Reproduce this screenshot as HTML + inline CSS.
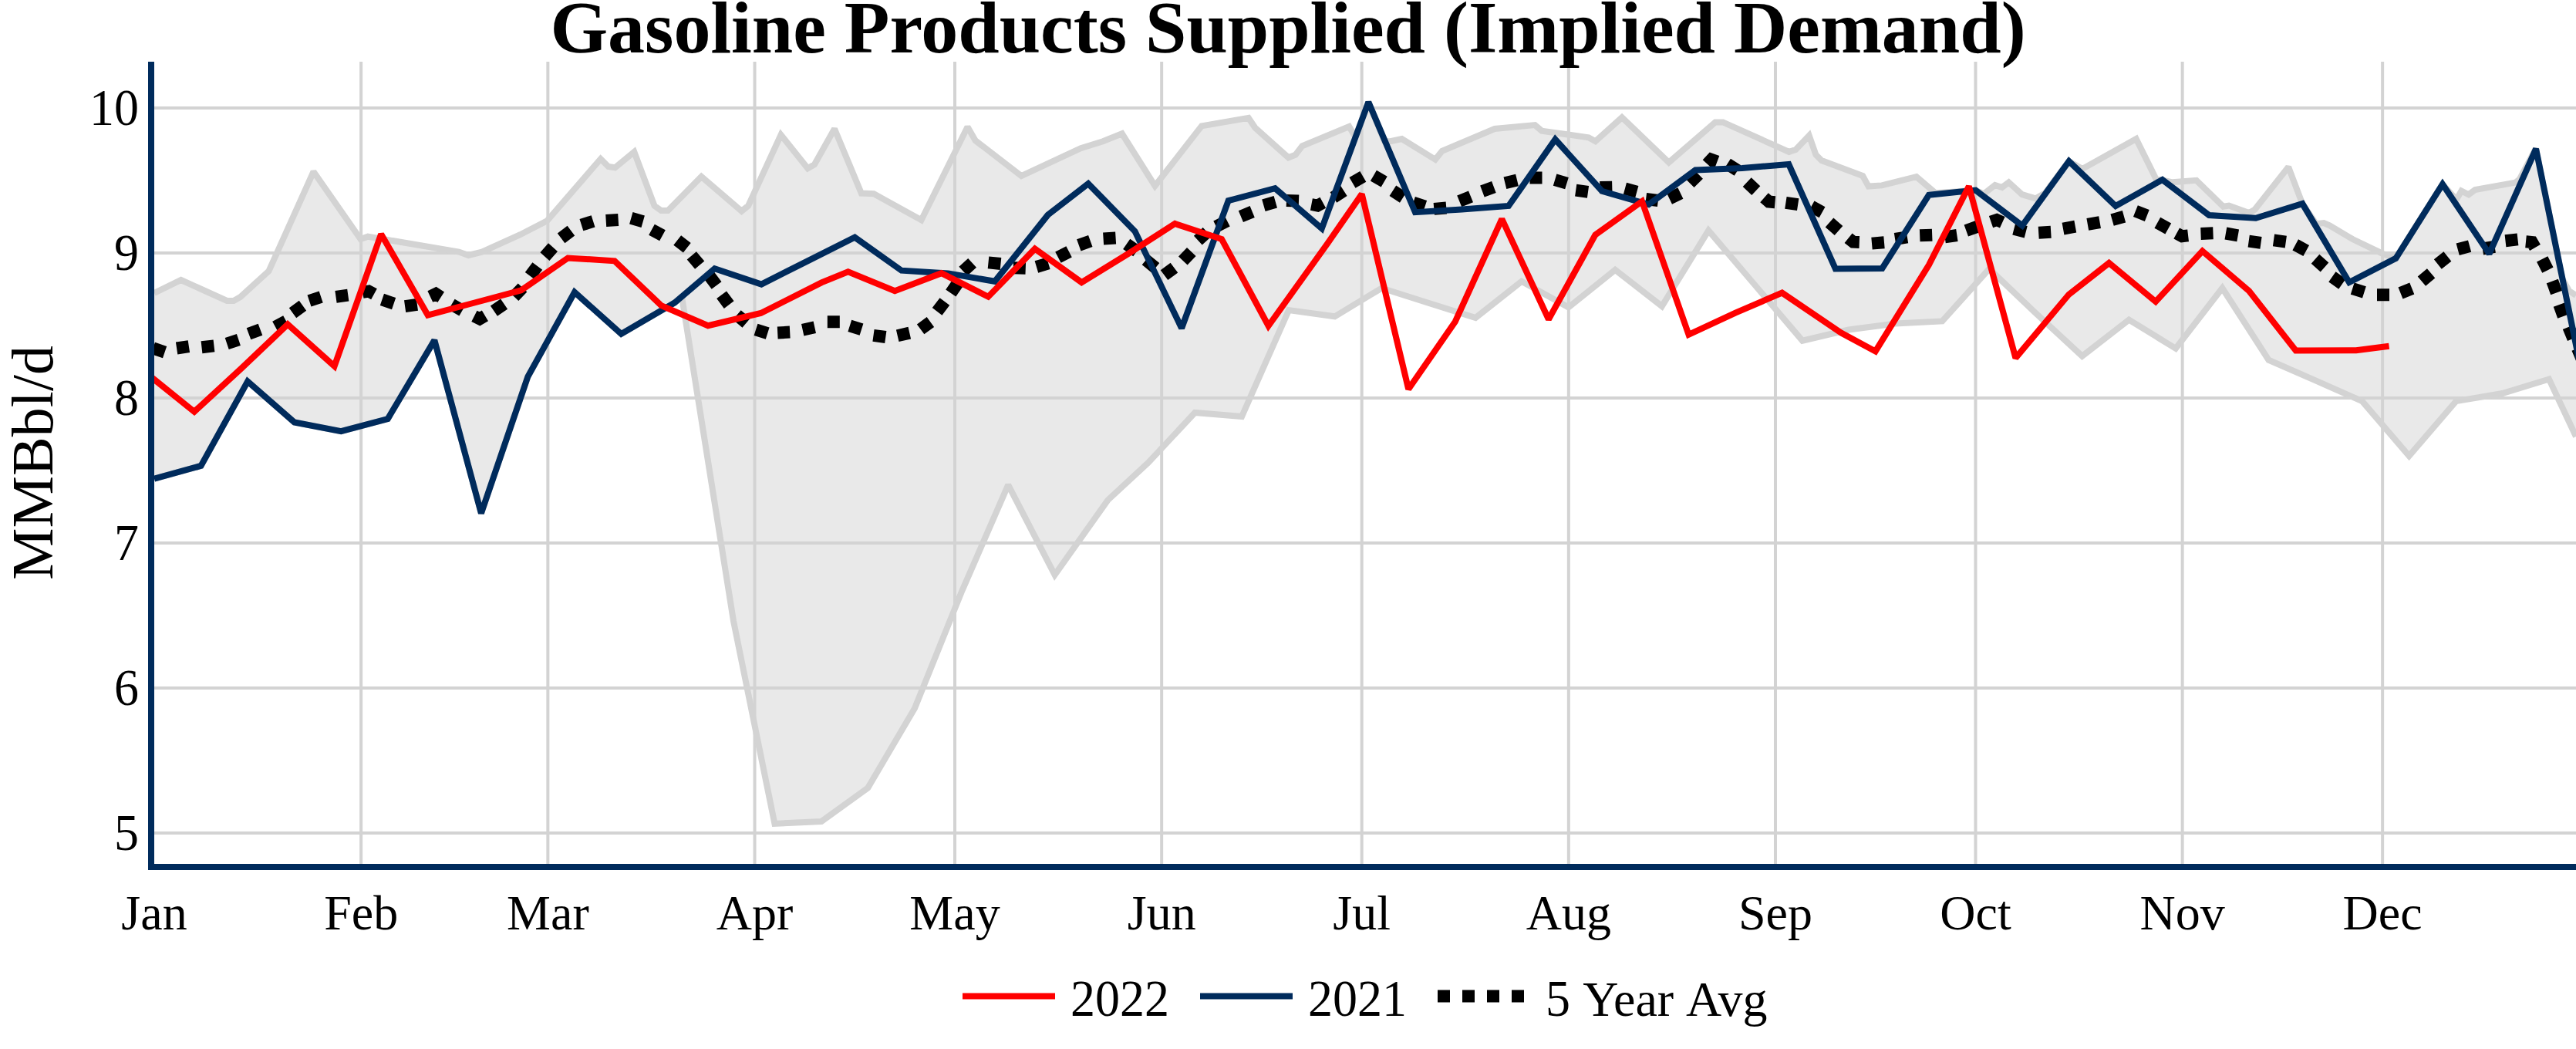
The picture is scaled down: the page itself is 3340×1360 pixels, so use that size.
<!DOCTYPE html>
<html lang="en">
<head>
<meta charset="utf-8">
<title>Gasoline Products Supplied (Implied Demand)</title>
<style>
html,body{margin:0;padding:0;background:#fff;}
body{width:3340px;height:1360px;overflow:hidden;}
svg{display:block;}
text{font-family:"Liberation Serif","Times New Roman",Times,serif;fill:#000;}
.ln{fill:none;stroke-width:8;stroke-linejoin:miter;stroke-miterlimit:2;stroke-linecap:butt;}
</style>
</head>
<body>
<svg width="3340" height="1360" viewBox="0 0 3340 1360">
<rect x="0" y="0" width="3340" height="1360" fill="#ffffff"/>
<defs><clipPath id="plot"><rect x="200" y="80" width="3140" height="1040"/></clipPath></defs>
<g fill="#d3d3d3">
<rect x="466.15" y="80" width="4" height="1040"/>
<rect x="708.36" y="80" width="4" height="1040"/>
<rect x="976.51" y="80" width="4" height="1040"/>
<rect x="1236.02" y="80" width="4" height="1040"/>
<rect x="1504.17" y="80" width="4" height="1040"/>
<rect x="1763.67" y="80" width="4" height="1040"/>
<rect x="2031.83" y="80" width="4" height="1040"/>
<rect x="2299.98" y="80" width="4" height="1040"/>
<rect x="2559.49" y="80" width="4" height="1040"/>
<rect x="2827.64" y="80" width="4" height="1040"/>
<rect x="3087.15" y="80" width="4" height="1040"/>
<rect x="200" y="1078" width="3140" height="4"/>
<rect x="200" y="890" width="3140" height="4"/>
<rect x="200" y="702" width="3140" height="4"/>
<rect x="200" y="514" width="3140" height="4"/>
<rect x="200" y="326" width="3140" height="4"/>
<rect x="200" y="138" width="3140" height="4"/>
</g>
<g clip-path="url(#plot)">
<polygon points="200.0,380.0 234.7,363.0 294.3,390.0 303.0,390.0 311.7,385.0 348.5,351.4 406.5,222.5 467.5,310.0 477.0,306.7 595.0,326.6 607.4,331.0 624.8,326.6 674.5,304.2 709.3,286.3 778.8,206.0 788.8,216.0 797.5,217.3 822.3,197.0 848.5,266.7 857.2,273.0 866.0,273.0 909.4,229.0 961.6,273.7 970.2,266.7 1012.5,174.8 1047.3,218.3 1056.0,213.3 1082.0,167.0 1116.8,250.6 1133.0,251.3 1194.6,285.3 1254.5,164.5 1264.7,182.2 1324.3,228.2 1401.3,192.2 1430.0,183.2 1454.8,173.3 1497.5,241.0 1558.0,163.4 1618.8,152.9 1627.5,165.8 1670.5,204.3 1679.7,200.6 1688.4,189.4 1749.3,164.1 1755.5,174.5 1760.0,171.0 1774.2,132.3 1795.0,183.0 1802.7,183.2 1817.6,180.0 1861.0,206.8 1869.8,195.7 1938.0,167.0 1990.2,162.1 1999.0,169.6 2059.8,178.3 2068.6,183.2 2103.0,152.2 2163.8,210.6 2224.0,158.4 2233.9,158.4 2319.6,196.9 2328.3,194.0 2345.7,175.8 2354.4,200.6 2361.8,208.1 2415.2,228.0 2422.7,241.6 2440.0,240.4 2484.8,229.2 2509.6,250.3 2561.3,246.6 2572.2,251.3 2586.7,239.9 2595.8,243.0 2604.5,236.4 2621.8,252.1 2639.3,257.4 2652.0,250.0 2682.4,209.0 2700.0,219.0 2769.7,180.0 2795.7,232.5 2803.5,233.5 2816.8,236.3 2847.8,233.8 2882.6,267.8 2890.0,266.6 2916.1,276.0 2923.6,271.6 2967.1,216.4 2985.2,264.1 3003.0,290.2 3013.0,289.0 3020.5,292.2 3050.3,310.0 3089.0,328.7 3106.3,334.9 3166.8,238.8 3185.0,258.6 3191.4,247.5 3200.8,252.3 3209.2,246.0 3261.6,236.6 3266.8,232.4 3287.9,192.5 3322.0,361.0 3331.0,377.0 3340.0,383.0 3340.0,566.0 3305.0,491.6 3244.6,510.0 3184.5,520.1 3123.6,591.0 3062.7,520.1 3002.4,493.4 2941.5,466.7 2881.4,373.5 2821.0,451.8 2760.4,414.5 2699.7,461.7 2639.1,405.7 2579.2,348.6 2518.3,416.4 2457.5,419.5 2396.9,427.5 2337.0,441.7 2275.8,370.0 2215.2,298.8 2154.8,397.0 2094.2,349.8 2033.7,398.4 1972.9,364.8 1913.2,412.0 1852.0,392.7 1791.5,373.5 1730.6,410.3 1671.0,402.1 1610.1,540.0 1549.3,535.0 1488.7,600.0 1436.4,648.4 1367.6,745.3 1307.2,628.6 1246.5,768.0 1186.0,918.3 1125.3,1021.4 1065.0,1065.0 1004.4,1067.9 951.0,805.0 884.0,384.4 874.7,392.5 805.5,432.9 745.0,378.8 684.4,488.3 623.9,665.5 563.3,441.1 502.8,543.0 442.2,559.1 381.7,547.5 321.1,494.5 260.6,603.9 200.0,620.7" fill="#d3d3d3" fill-opacity="0.5" stroke="none"/>
<polyline class="ln" stroke="#d3d3d3" points="200.0,620.7 260.6,603.9 321.1,494.5 381.7,547.5 442.2,559.1 502.8,543.0 563.3,441.1 623.9,665.5 684.4,488.3 745.0,378.8 805.5,432.9 874.7,392.5 884.0,384.4 951.0,805.0 1004.4,1067.9 1065.0,1065.0 1125.3,1021.4 1186.0,918.3 1246.5,768.0 1307.2,628.6 1367.6,745.3 1436.4,648.4 1488.7,600.0 1549.3,535.0 1610.1,540.0 1671.0,402.1 1730.6,410.3 1791.5,373.5 1852.0,392.7 1913.2,412.0 1972.9,364.8 2033.7,398.4 2094.2,349.8 2154.8,397.0 2215.2,298.8 2275.8,370.0 2337.0,441.7 2396.9,427.5 2457.5,419.5 2518.3,416.4 2579.2,348.6 2639.1,405.7 2699.7,461.7 2760.4,414.5 2821.0,451.8 2881.4,373.5 2941.5,466.7 3002.4,493.4 3062.7,520.1 3123.6,591.0 3184.5,520.1 3244.6,510.0 3305.0,491.6 3340.0,566.0"/>
<polyline class="ln" stroke="#d3d3d3" points="200.0,380.0 234.7,363.0 294.3,390.0 303.0,390.0 311.7,385.0 348.5,351.4 406.5,222.5 467.5,310.0 477.0,306.7 595.0,326.6 607.4,331.0 624.8,326.6 674.5,304.2 709.3,286.3 778.8,206.0 788.8,216.0 797.5,217.3 822.3,197.0 848.5,266.7 857.2,273.0 866.0,273.0 909.4,229.0 961.6,273.7 970.2,266.7 1012.5,174.8 1047.3,218.3 1056.0,213.3 1082.0,167.0 1116.8,250.6 1133.0,251.3 1194.6,285.3 1254.5,164.5 1264.7,182.2 1324.3,228.2 1401.3,192.2 1430.0,183.2 1454.8,173.3 1497.5,241.0 1558.0,163.4 1618.8,152.9 1627.5,165.8 1670.5,204.3 1679.7,200.6 1688.4,189.4 1749.3,164.1 1755.5,174.5 1760.0,171.0 1774.2,132.3 1795.0,183.0 1802.7,183.2 1817.6,180.0 1861.0,206.8 1869.8,195.7 1938.0,167.0 1990.2,162.1 1999.0,169.6 2059.8,178.3 2068.6,183.2 2103.0,152.2 2163.8,210.6 2224.0,158.4 2233.9,158.4 2319.6,196.9 2328.3,194.0 2345.7,175.8 2354.4,200.6 2361.8,208.1 2415.2,228.0 2422.7,241.6 2440.0,240.4 2484.8,229.2 2509.6,250.3 2561.3,246.6 2572.2,251.3 2586.7,239.9 2595.8,243.0 2604.5,236.4 2621.8,252.1 2639.3,257.4 2652.0,250.0 2682.4,209.0 2700.0,219.0 2769.7,180.0 2795.7,232.5 2803.5,233.5 2816.8,236.3 2847.8,233.8 2882.6,267.8 2890.0,266.6 2916.1,276.0 2923.6,271.6 2967.1,216.4 2985.2,264.1 3003.0,290.2 3013.0,289.0 3020.5,292.2 3050.3,310.0 3089.0,328.7 3106.3,334.9 3166.8,238.8 3185.0,258.6 3191.4,247.5 3200.8,252.3 3209.2,246.0 3261.6,236.6 3266.8,232.4 3287.9,192.5 3322.0,361.0 3331.0,377.0 3340.0,383.0"/>
<path class="ln" stroke="#000000" style="stroke-width:16;" d="M198.4,451.4L213.6,456.6M229.1,451.5L244.9,449.1M261.5,450.2L277.5,448.4M294.2,445.5L309.4,440.5M322.5,432.8L337.5,427.2M357.0,423.8L371.0,416.2M379.5,405.7L392.5,396.3M401.0,390.0L416.2,385.0M435.5,384.8L451.3,382.6M470.1,378.9L478.0,377.5L485.0,381.3M495.4,388.4L510.6,393.6M525.1,397.1L540.9,394.9M557.8,384.4L565.0,381.0L571.7,385.3M585.6,394.6L599.4,402.6M614.9,409.9L622.0,413.5L628.9,409.4M640.4,403.1L653.6,394.1M666.5,384.6L677.5,373.0M687.2,357.8L696.8,345.0M706.4,332.6L717.0,320.6M727.6,308.8L740.4,299.2M753.9,291.7L769.1,286.9M785.7,286.1L801.7,285.1M818.3,282.8L833.7,287.2M845.0,297.7L859.0,305.3M878.2,311.5L890.8,321.3M896.8,331.4L907.2,343.6M919.5,357.2L929.1,370.0M935.6,382.3L945.2,395.1M955.5,408.3L967.7,418.7M980.0,427.3L995.2,432.1M1008.2,431.4L1024.2,430.6M1040.7,427.7L1056.3,424.3M1072.8,417.3L1088.8,417.3M1101.8,422.3L1117.0,427.1M1132.5,434.8L1148.3,437.0M1163.7,435.2L1179.3,431.6M1193.6,426.9L1206.4,417.5M1215.1,403.8L1224.9,391.0M1232.8,380.1L1241.8,366.9M1248.8,351.6L1260.6,340.8M1281.5,340.4L1297.5,342.0M1313.8,347.2L1329.8,347.8M1343.9,346.0L1359.3,341.4M1371.9,333.7L1386.1,326.3M1398.8,317.9L1413.8,312.5M1430.6,309.5L1446.6,308.5M1460.7,316.4L1473.9,325.6M1485.8,337.1L1498.2,347.3M1509.5,356.7L1522.4,347.1M1533.8,338.1L1544.8,326.5M1553.3,311.6L1565.1,300.8M1576.9,293.6L1591.1,286.4M1608.9,280.7L1623.7,274.5M1638.4,266.2L1653.8,261.8M1668.0,259.9L1684.0,260.5M1700.4,265.0L1708.3,266.5L1715.3,262.7M1728.9,255.9L1742.3,247.3M1753.5,236.9L1767.3,228.9M1780.9,227.7L1794.7,235.7M1805.9,247.3L1819.3,255.9M1832.4,262.7L1847.6,267.7M1859.3,270.9L1875.3,269.5M1892.2,260.8L1907.0,254.8M1921.9,248.1L1936.9,242.5M1951.4,237.3L1967.0,233.5M1983.5,230.4L1999.5,230.4M2016.1,233.1L2031.5,237.7M2043.2,246.7L2059.0,248.9M2074.3,243.1L2090.3,242.7M2106.9,244.5L2122.3,248.7M2134.1,258.0L2149.9,260.0M2164.5,257.5L2178.9,250.5M2190.9,237.4L2202.3,226.0M2213.6,212.7L2219.0,206.8L2226.5,209.6M2239.6,212.5L2253.0,221.1M2265.2,236.1L2276.8,247.1M2287.5,256.2L2293.5,261.5L2301.5,262.2M2315.4,262.8L2331.2,265.2M2348.6,267.5L2362.6,275.3M2372.0,288.5L2384.0,299.1M2396.6,308.7L2402.8,313.7L2410.8,314.0M2427.0,315.6L2443.0,314.2M2457.1,310.0L2472.9,307.4M2489.2,305.3L2505.2,304.7M2521.6,307.4L2537.4,305.0M2549.3,299.0L2564.3,293.6M2581.5,287.6L2589.0,285.0L2596.3,288.3M2611.3,296.8L2626.7,300.8M2643.2,301.7L2659.2,300.7M2675.0,296.6L2690.8,293.7M2706.8,290.9L2722.6,288.1M2738.6,285.1L2754.0,280.8M2768.9,273.6L2783.8,279.5M2797.3,288.8L2811.3,296.6M2822.2,302.5L2829.2,306.3L2837.1,305.4M2853.5,302.9L2869.5,302.3M2885.9,302.5L2901.7,305.3M2915.7,312.7L2931.5,314.9M2948.0,311.4L2963.8,313.6M2976.2,317.4L2990.2,325.0M3002.0,335.8L3014.0,346.4M3023.9,358.9L3036.9,368.1M3050.2,374.1L3065.4,378.9M3082.0,382.2L3098.0,382.2M3112.5,380.0L3127.3,374.0M3139.9,364.7L3152.1,354.3M3160.8,342.4L3173.4,332.4M3186.7,323.3L3202.1,319.1M3218.8,322.5L3234.6,319.9M3248.5,312.2L3264.5,310.4M3275.0,313.2L3283.0,314.0L3287.0,320.9M3296.2,335.8L3303.4,350.2M3309.3,364.5L3314.7,379.5M3318.3,395.0L3323.7,410.0M3330.2,424.0L3336.4,438.8M3341.9,451.6L3348.1,466.4"/>
<polyline class="ln" stroke="#002b5c" points="200.0,620.7 260.6,603.9 321.1,494.5 381.7,547.5 442.2,559.1 502.8,543.0 563.3,441.1 623.9,665.5 684.4,488.3 745.0,378.8 805.5,432.9 874.7,392.5 926.6,348.2 987.2,368.6 1047.7,338.1 1108.3,307.7 1168.8,350.7 1229.4,354.4 1289.9,364.8 1358.6,278.7 1411.0,238.1 1471.6,300.0 1532.1,425.5 1592.7,260.2 1653.2,244.1 1713.8,296.3 1774.3,132.3 1834.9,275.2 1895.4,271.4 1956.0,267.0 2016.5,180.7 2077.1,247.8 2137.6,265.2 2198.2,220.5 2258.7,218.0 2319.3,213.0 2379.8,348.5 2440.4,348.0 2500.9,252.8 2561.5,246.6 2622.0,292.5 2682.6,209.0 2743.1,267.1 2803.7,233.0 2864.2,279.0 2924.8,282.7 2985.3,264.1 3045.9,366.0 3106.4,334.9 3167.0,238.8 3227.5,329.0 3288.1,193.0 3348.7,490.0"/>
<polyline class="ln" stroke="#ff0000" points="191.3,485.0 251.9,533.8 312.5,478.0 373.0,420.5 433.6,474.7 494.1,303.5 554.7,408.6 615.2,392.5 675.8,376.3 736.3,334.5 796.9,338.3 857.4,396.1 918.0,422.2 986.5,406.0 1065.1,366.4 1099.6,352.4 1160.2,377.3 1220.7,354.2 1281.3,384.7 1341.8,322.6 1402.4,366.1 1462.8,329.0 1523.5,290.0 1584.0,310.0 1644.6,422.5 1721.0,316.0 1765.7,251.6 1826.2,504.5 1886.8,417.0 1947.3,283.9 2007.9,414.0 2068.4,304.5 2129.0,261.0 2189.5,433.8 2250.1,405.7 2310.6,379.6 2387.2,431.5 2431.7,455.4 2500.9,343.6 2552.8,241.6 2613.4,464.1 2682.4,381.8 2734.5,341.0 2795.0,391.0 2855.6,325.5 2916.1,377.3 2976.7,454.5 3054.9,454.3 3097.6,448.8"/>
</g>
<rect x="192" y="80" width="8" height="1048" fill="#002b5c"/>
<rect x="192" y="1120" width="3148" height="8" fill="#002b5c"/>
<text x="1670" y="68" text-anchor="middle" font-size="96" font-weight="bold">Gasoline Products Supplied (Implied Demand)</text>
<text transform="translate(180,1102) scale(1,1.05)" text-anchor="end" font-size="64">5</text>
<text transform="translate(180,914) scale(1,1.05)" text-anchor="end" font-size="64">6</text>
<text transform="translate(180,726) scale(1,1.05)" text-anchor="end" font-size="64">7</text>
<text transform="translate(180,538) scale(1,1.05)" text-anchor="end" font-size="64">8</text>
<text transform="translate(180,350) scale(1,1.05)" text-anchor="end" font-size="64">9</text>
<text transform="translate(180,162) scale(1,1.05)" text-anchor="end" font-size="64">10</text>
<text x="200.0" y="1205" text-anchor="middle" font-size="64">Jan</text>
<text x="468.2" y="1205" text-anchor="middle" font-size="64">Feb</text>
<text x="710.4" y="1205" text-anchor="middle" font-size="64">Mar</text>
<text x="978.5" y="1205" text-anchor="middle" font-size="64">Apr</text>
<text x="1238.0" y="1205" text-anchor="middle" font-size="64">May</text>
<text x="1506.2" y="1205" text-anchor="middle" font-size="64">Jun</text>
<text x="1765.7" y="1205" text-anchor="middle" font-size="64">Jul</text>
<text x="2033.8" y="1205" text-anchor="middle" font-size="64">Aug</text>
<text x="2302.0" y="1205" text-anchor="middle" font-size="64">Sep</text>
<text x="2561.5" y="1205" text-anchor="middle" font-size="64">Oct</text>
<text x="2829.6" y="1205" text-anchor="middle" font-size="64">Nov</text>
<text x="3089.1" y="1205" text-anchor="middle" font-size="64">Dec</text>
<text transform="translate(68,600) rotate(-90)" text-anchor="middle" font-size="76">MMBbl/d</text>
<g>
<rect x="1248" y="1287.5" width="120" height="8" fill="#ff0000"/>
<text transform="translate(1388,1317) scale(1,1.05)" font-size="64">2022</text>
<rect x="1556" y="1287.5" width="120" height="8" fill="#002b5c"/>
<text transform="translate(1696,1317) scale(1,1.05)" font-size="64">2021</text>
<path d="M1864,1291.5H1984" fill="none" stroke="#000" stroke-width="16" stroke-dasharray="16 16"/>
<text x="2004" y="1317" font-size="64"><tspan font-size="67.2" textLength="32" lengthAdjust="spacingAndGlyphs">5</tspan> <tspan dx="2.6">Year </tspan><tspan dx="3.4">Avg</tspan></text>
</g>
</svg>
</body>
</html>
